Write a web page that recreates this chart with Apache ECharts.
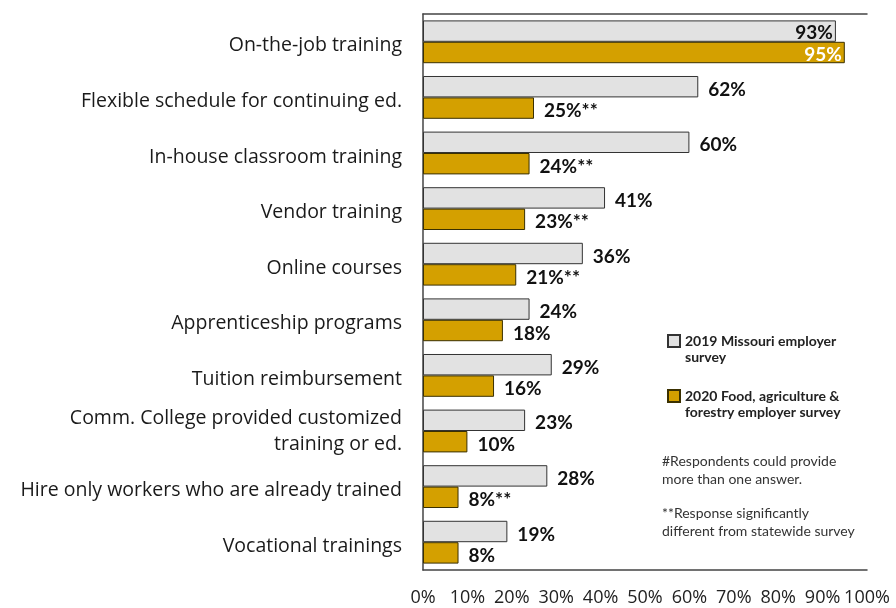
<!DOCTYPE html>
<html>
<head>
<meta charset="utf-8">
<script src="https://cdn.jsdelivr.net/npm/echarts@6/dist/echarts.min.js"></script>
<style>
html,body{margin:0;padding:0;background:#fff;}
#chart{width:896px;height:608px;}
</style>
</head>
<body>
<div id="chart"></div>
<script>
var categories = [
  'On-the-job training',
  'Flexible schedule for continuing ed.',
  'In-house classroom training',
  'Vendor training',
  'Online courses',
  'Apprenticeship programs',
  'Tuition reimbursement',
  'Comm. College provided customized\ntraining or ed.',
  'Hire only workers who are already trained',
  'Vocational trainings'
];
var seriesNames = ['2019 Missouri employer\nsurvey', '2020 Food, agriculture &\nforestry employer survey'];
var values2019 = [93, 62, 60, 41, 36, 24, 29, 23, 28, 19];
var values2020 = [95, 25, 24, 23, 21, 18, 16, 10, 8, 8];
var significant2020 = [false, true, true, true, true, false, false, false, true, false];
var xTicks = [0, 10, 20, 30, 40, 50, 60, 70, 80, 90, 100];
var notes = ['#Respondents could provide\nmore than one answer.', '**Response significantly\ndifferent from statewide survey'];

var FONT = 'Lato';
var CAT_FONT = 'Open Sans';
var labelBase = {show: true, position: 'right', distance: 10, offset: [0, 3], fontFamily: FONT, fontWeight: 'bold', fontSize: 19, color: '#111'};

var data2019 = values2019.map(function (v, i) {
  var d = {value: v};
  if (i === 0) d.label = {position: 'insideRight', distance: 3, offset: [0, 2], color: '#111'};
  return d;
});
var data2020 = values2020.map(function (v, i) {
  var d = {value: v, sig: significant2020[i]};
  if (i === 0) d.label = {position: 'insideRight', distance: 3, offset: [0, 2], color: '#fff'};
  return d;
});

var chart = echarts.init(document.getElementById('chart'), null, {renderer: 'canvas'});
chart.setOption({
  backgroundColor: '#fff',
  animation: false,
  grid: {left: 423, right: 29, top: 14, bottom: 38, containLabel: false},
  xAxis: [{
    type: 'value', min: 0, max: 100, interval: 10, position: 'bottom',
    axisLine: {show: true, lineStyle: {color: '#444', width: 1.5}},
    axisTick: {show: false}, splitLine: {show: false},
    axisLabel: {margin: 19, fontFamily: CAT_FONT, fontSize: 18, color: '#222',
      formatter: function (v) { return xTicks.indexOf(v) >= 0 ? v + '%' : ''; }}
  }, {
    type: 'value', min: 0, max: 100, position: 'top',
    axisLine: {show: true, lineStyle: {color: '#444', width: 1.5}},
    axisTick: {show: false}, axisLabel: {show: false}, splitLine: {show: false}
  }],
  yAxis: [{
    type: 'category', data: categories, inverse: true, position: 'left',
    axisLine: {show: false}, axisTick: {show: false},
    axisLabel: {
      margin: 21, align: 'right',
      formatter: function (v) {
        var lines = v.split('\n');
        var key = lines.length > 1 ? 'n' : 'f';
        return lines.map(function (s) { return '{' + key + '|' + s + '}'; }).join('\n');
      },
      rich: {
        f: {fontFamily: CAT_FONT, fontSize: 19.5, color: '#1a1a1a', lineHeight: 25, padding: [8, 0, 0, 0]},
        n: {fontFamily: CAT_FONT, fontSize: 19.5, color: '#1a1a1a', lineHeight: 26}
      }
    }
  }, {
    type: 'category', data: categories, inverse: true, position: 'right',
    axisLine: {show: true, lineStyle: {color: '#444', width: 1.5}},
    axisTick: {show: false}, axisLabel: {show: false}
  }],
  legend: {
    orient: 'vertical', left: 662, top: 312, itemWidth: 12, itemHeight: 12, itemGap: 7,
    icon: 'rect', selectedMode: false,
    formatter: function (name) { return ' \n' + name; },
    textStyle: {fontFamily: FONT, fontWeight: 'bold', fontSize: 14, color: '#222', lineHeight: 16},
    data: seriesNames
  },
  graphic: [{
    type: 'text', left: 662, top: 452,
    style: {text: notes[0], fontFamily: FONT, fontSize: 14, lineHeight: 18, fill: '#333'}
  }, {
    type: 'text', left: 662, top: 504,
    style: {text: notes[1], fontFamily: FONT, fontSize: 14, lineHeight: 18, fill: '#333'}
  }],
  series: [{
    name: seriesNames[0], type: 'bar', data: data2019,
    barGap: '0%', barCategoryGap: '23%',
    itemStyle: {color: '#e2e2e2', borderColor: '#333', borderWidth: 1},
    label: Object.assign({}, labelBase, {formatter: '{c}%'})
  }, {
    name: seriesNames[1], type: 'bar', data: data2020,
    itemStyle: {color: '#d4a000', borderColor: '#3a3000', borderWidth: 1},
    label: Object.assign({}, labelBase, {
      formatter: function (p) { return p.value + '%' + (p.data.sig ? '**' : ''); }
    })
  }]
});
</script>
</body>
</html>
